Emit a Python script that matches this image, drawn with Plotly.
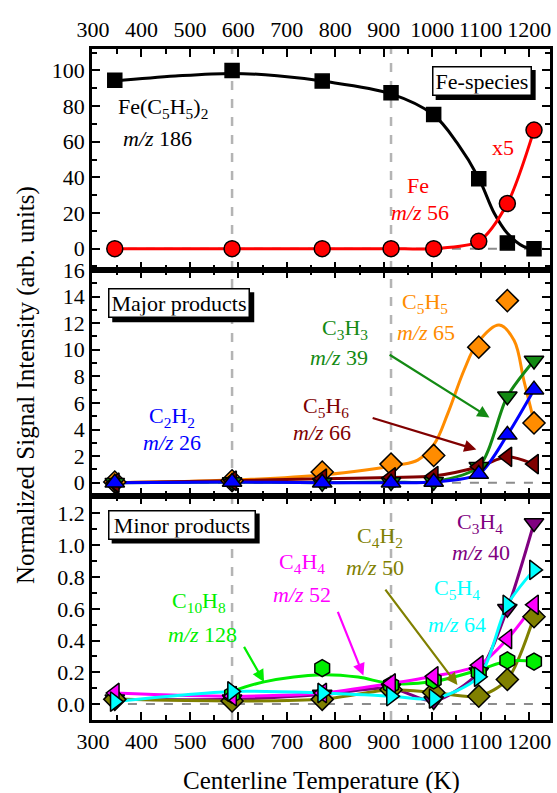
import plotly.graph_objects as go

# ---------------- data ----------------
temps = [345, 587, 773, 915, 1003, 1096, 1155, 1210]

# Fe-species panel
fe_cp2 = [94.4, 100, 94, 87.5, 75.3, 39.2, 3.2, 0]
fe_x5 = [0, 0, 0, 0, 0, 4.1, 25.3, 66.5]
fe_cp2_fit_t = [345, 470, 587, 680, 773, 915, 1003, 1052, 1096, 1128, 1155, 1189, 1210]
fe_cp2_fit_v = [94, 96.8, 98.3, 97, 94, 86.8, 75, 59, 39.5, 19.8, 8.6, 1.1, 0]

# Major products panel
c5h5 = [0.05, 0.15, 0.8, 1.4, 2.05, 10.2, 13.7, 4.5]
c3h3 = [0, 0.05, 0, 0.05, 0.08, 1.2, 6.5, 9.2]
c2h2 = [0, 0.05, 0, 0, 0.05, 0.65, 3.6, 7.0]
c5h6 = [0, 0.15, 0.3, 0.4, 0.5, 1.2, 1.95, 1.4]
c5h5_fit_t = [345, 587, 773, 929, 970, 1005, 1032, 1066, 1093, 1138, 1169, 1189, 1206]
c5h5_fit_v = [0, 0.2, 0.58, 1.33, 1.7, 2.96, 5.2, 8.5, 10.5, 11.86, 10.7, 7.7, 5.2]

# Minor products panel
c3h4 = [0.03, 0.03, 0.06, 0.1, 0.02, 0.2, 0.6, 1.14]
c4h2 = [0.03, 0.02, 0.03, 0.09, 0.073, 0.05, 0.155, 0.55]
c10h8 = [None, 0.06, 0.226, 0.12, 0.15, 0.2, 0.275, 0.268]
c4h4 = [0.07, 0.05, 0.07, 0.13, 0.175, 0.245, 0.41, 0.625]
c5h4 = [0.016, 0.08, 0.07, 0.05, 0.035, 0.172, 0.625, 0.845]
c10h8_fit_t = [587, 653, 773, 847, 915, 1003, 1096, 1155, 1210]
c10h8_fit_v = [0.08, 0.14, 0.185, 0.17, 0.13, 0.142, 0.215, 0.27, 0.27]

FONT = "Liberation Serif"
ORANGE = "#ff8c00"
GREEN = "#138a13"
BLUE = "#0000ff"
BROWN = "#800000"
LIME = "#00ee00"
MAGENTA = "#ff00ff"
OLIVE = "#808000"
PURPLE = "#800080"
CYAN = "#00ffff"

fig = go.Figure()


def line(x, y, color, ax, smoothing=1.0):
    fig.add_trace(go.Scatter(
        x=x, y=y, mode="lines", xaxis=ax[0], yaxis=ax[1],
        line=dict(color=color, width=3, shape="spline", smoothing=smoothing),
        hoverinfo="skip", showlegend=False))


def marks(y, color, symbol, ax, size=15):
    fig.add_trace(go.Scatter(
        x=temps, y=y, mode="markers", xaxis=ax[0], yaxis=ax[1],
        marker=dict(color=color, symbol=symbol, size=size,
                    line=dict(color="black", width=1.5)),
        showlegend=False))


TOP = ("x3", "y3")
MID = ("x2", "y2")
BOT = ("x", "y")

# top panel curves and points
line(fe_cp2_fit_t, fe_cp2_fit_v, "black", TOP)
line(temps, fe_x5, "#ff0000", TOP, 0.8)
marks(fe_cp2, "black", "square", TOP, 14)
marks(fe_x5, "#ff0000", "circle", TOP, 16)

# middle panel
line(c5h5_fit_t, c5h5_fit_v, ORANGE, MID)
line(temps, c3h3, GREEN, MID, 0.8)
line(temps, c5h6, BROWN, MID, 0.8)
line(temps, c2h2, BLUE, MID, 0.8)
marks(c5h5, ORANGE, "diamond", MID, 17)
marks(c3h3, GREEN, "triangle-down", MID, 17)
marks(c5h6, BROWN, "triangle-left", MID, 17)
marks(c2h2, BLUE, "triangle-up", MID, 17)

# bottom panel
line(temps, c3h4, PURPLE, BOT, 0.8)
line(temps, c4h2, OLIVE, BOT, 0.8)
line(c10h8_fit_t, c10h8_fit_v, LIME, BOT)
line(temps, c4h4, MAGENTA, BOT, 0.8)
line(temps, c5h4, CYAN, BOT, 0.8)
marks(c3h4, PURPLE, "triangle-down", BOT, 17)
marks(c4h2, OLIVE, "diamond", BOT, 17)
marks(c10h8, LIME, "hexagon", BOT, 17)
marks(c4h4, MAGENTA, "triangle-left", BOT, 17)
marks(c5h4, CYAN, "triangle-right", BOT, 17)

# ---------------- reference lines ----------------
shapes = []
for t in (587, 915):
    shapes.append(dict(type="line", xref="x", yref="paper", x0=t, x1=t, y0=0, y1=1,
                       line=dict(color="#b4b4b4", width=2.5, dash="dash"), layer="below"))
for yr in ("y", "y2", "y3"):
    shapes.append(dict(type="line", xref="x", yref=yr, x0=335, x1=1230, y0=0, y1=0,
                       line=dict(color="#8c8c8c", width=2, dash="dash"), layer="below"))

# ---------------- text labels ----------------
ann = []


def text(s, x, y, color, ax, size=22):
    ann.append(dict(text=s, x=x, y=y, xref=ax[0], yref=ax[1], showarrow=False,
                    font=dict(family=FONT, size=size, color=color),
                    xanchor="center", yanchor="middle"))


def boxed(s, x, y, ax, w, h=30, off=4):
    # solid black rectangle offset down-right gives the framed label a drop shadow
    shapes.append(dict(type="rect", xref=ax[0], yref=ax[1],
                       xsizemode="pixel", ysizemode="pixel", xanchor=x, yanchor=y,
                       x0=-w / 2 + off, x1=w / 2 + off, y0=-h / 2 - off, y1=h / 2 - off,
                       fillcolor="black", line=dict(width=0), layer="above"))
    ann.append(dict(text=s, x=x, y=y, xref=ax[0], yref=ax[1], showarrow=False,
                    font=dict(family=FONT, size=22, color="black"),
                    bgcolor="white", bordercolor="black", borderwidth=1.5, borderpad=1,
                    width=w - 5, height=h - 5, align="center", valign="middle",
                    xanchor="center", yanchor="middle"))


def arrow(x0, y0, x1, y1, color, ax):
    ann.append(dict(text="", x=x1, y=y1, ax=x0, ay=y0, xref=ax[0], yref=ax[1],
                    axref=ax[0], ayref=ax[1], showarrow=True, arrowhead=2,
                    arrowsize=1.1, arrowwidth=2.2, arrowcolor=color, standoff=0))


MZ = "<i>m/z</i> "

boxed("Fe-species", 1102, 94, TOP, 100)
text("Fe(C<sub>5</sub>H<sub>5</sub>)<sub>2</sub>", 444, 79, "black", TOP)
text(MZ + "186", 433, 62, "black", TOP)
text("Fe", 970, 35.7, "#ff0000", TOP)
text(MZ + "56", 975, 20, "#ff0000", TOP)
text("x5", 1147, 57, "#ff0000", TOP)

boxed("Major products", 478, 13.5, MID, 142)
text("C<sub>5</sub>H<sub>5</sub>", 985, 13.5, ORANGE, MID)
text(MZ + "65", 987, 11.3, ORANGE, MID)
text("C<sub>3</sub>H<sub>3</sub>", 819, 11.6, GREEN, MID)
text(MZ + "39", 808, 9.45, GREEN, MID)
text("C<sub>5</sub>H<sub>6</sub>", 780, 5.7, BROWN, MID)
text(MZ + "66", 772, 3.75, BROWN, MID)
text("C<sub>2</sub>H<sub>2</sub>", 464, 4.95, BLUE, MID)
text(MZ + "26", 464, 3.0, BLUE, MID)
arrow(909, 9.7, 1118, 4.9, GREEN, MID)
arrow(874, 4.9, 1091, 2.5, BROWN, MID)

boxed("Minor products", 483, 1.13, BOT, 148)
text("C<sub>10</sub>H<sub>8</sub>", 519, 0.64, LIME, BOT)
text(MZ + "128", 526, 0.44, LIME, BOT)
text("C<sub>4</sub>H<sub>4</sub>", 731, 0.89, MAGENTA, BOT)
text(MZ + "52", 731, 0.69, MAGENTA, BOT)
text("C<sub>4</sub>H<sub>2</sub>", 893, 1.05, OLIVE, BOT)
text(MZ + "50", 882, 0.858, OLIVE, BOT)
text("C<sub>3</sub>H<sub>4</sub>", 1098, 1.14, PURPLE, BOT)
text(MZ + "40", 1100, 0.955, PURPLE, BOT)
text("C<sub>5</sub>H<sub>4</sub>", 1052, 0.725, CYAN, BOT)
text(MZ + "64", 1052, 0.5, CYAN, BOT)
arrow(610, 0.37, 653, 0.14, LIME, BOT)
arrow(804, 0.59, 858, 0.18, MAGENTA, BOT)
arrow(901, 0.73, 1052, 0.12, OLIVE, BOT)

# axis titles
ann.append(dict(text="Centerline Temperature (K)", x=0.5, y=-0.091, xref="paper", yref="paper",
                showarrow=False, font=dict(family=FONT, size=25, color="black"),
                xanchor="center", yanchor="middle"))
ann.append(dict(text="Normalized Signal Intensity (arb. units)", x=-0.1453, y=0.5,
                xref="paper", yref="paper", textangle=-90, showarrow=False,
                font=dict(family=FONT, size=25, color="black"),
                xanchor="center", yanchor="middle"))

# ---------------- axes ----------------
tickfont = dict(family=FONT, size=22, color="black")
common = dict(showline=True, linecolor="black", linewidth=2.5, mirror="allticks",
              ticks="inside", ticklen=8, tickwidth=2, tickcolor="black",
              showgrid=False, zeroline=False, tickfont=tickfont)


def xax(anchor, labels, side="bottom"):
    return dict(common, anchor=anchor, range=[298, 1243], tick0=300, dtick=100,
                showticklabels=labels, side=side,
                minor=dict(ticks="inside", dtick=50, ticklen=5, tickwidth=2,
                           tickcolor="black"))


d_bot = [0, 0.3338]
d_mid = [0.3338, 0.6706]
d_top = [0.6706, 1.0]

fig.update_layout(
    width=557, height=793,
    margin=dict(l=92, r=4, t=49, b=73),
    paper_bgcolor="white", plot_bgcolor="white",
    font=dict(family=FONT, color="black"),
    showlegend=False,
    xaxis=xax("y", True),
    xaxis2=dict(xax("y2", False), matches="x"),
    xaxis3=dict(xax("y3", True, "top"), matches="x"),
    yaxis=dict(common, anchor="x", domain=d_bot, range=[-0.1, 1.31], tick0=0, dtick=0.2,
               tickformat=".1f",
               minor=dict(ticks="inside", dtick=0.1, ticklen=5, tickwidth=2, tickcolor="black")),
    yaxis2=dict(common, anchor="x2", domain=d_mid, range=[-1, 16], tick0=0, dtick=2,
                minor=dict(ticks="inside", dtick=1, ticklen=5, tickwidth=2, tickcolor="black")),
    yaxis3=dict(common, anchor="x3", domain=d_top, range=[-12, 112], tick0=0, dtick=20,
                minor=dict(ticks="inside", dtick=10, ticklen=5, tickwidth=2, tickcolor="black")),
    shapes=shapes,
    annotations=ann,
)

fig.write_html("out.html")
